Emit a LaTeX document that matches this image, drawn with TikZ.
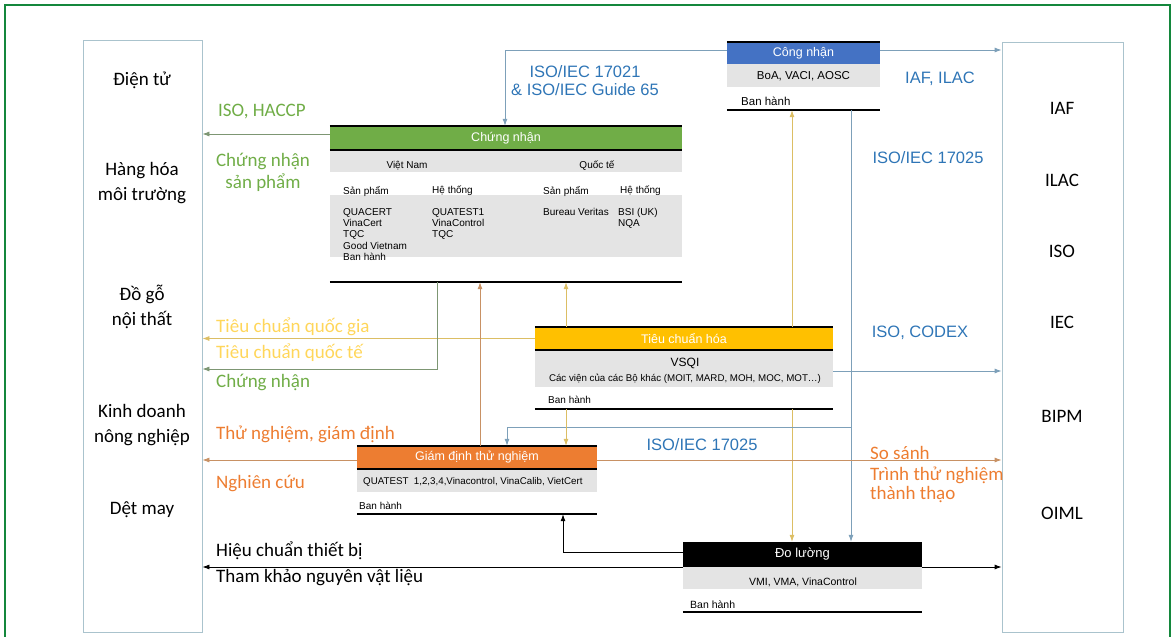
\documentclass[tikz,border=0pt]{standalone}
\usepackage{fontspec}
\setmainfont{Carlito}
\newfontfamily\arialf{Liberation Sans}
\usetikzlibrary{arrows.meta}
\definecolor{borderg}{RGB}{20,135,60}
\definecolor{cngreen}{RGB}{112,173,71}
\definecolor{conblue}{RGB}{68,114,196}
\definecolor{tcyellow}{RGB}{255,192,0}
\definecolor{gdorange}{RGB}{237,125,49}
\definecolor{band}{RGB}{228,228,228}
\definecolor{txtblue}{RGB}{46,117,182}
\definecolor{txtgreen}{RGB}{112,173,71}
\definecolor{txtyellow}{RGB}{255,214,90}
\definecolor{txtorange}{RGB}{237,125,49}
\definecolor{lnblue}{RGB}{125,160,185}
\definecolor{lngreen}{RGB}{125,150,115}
\definecolor{lnyellow}{RGB}{220,190,100}
\definecolor{lnorange}{RGB}{200,145,100}
\definecolor{sideline}{RGB}{170,195,205}
\tikzset{arrow/.style={->, >={Latex[length=7pt,width=5pt]}, line width=0.8pt}}

\begin{document}
\begin{tikzpicture}[x=1pt, y=-1pt,
    unit/.style 2 args={minimum width=#1, minimum height=#2, inner sep=0pt},
    hdr/.style={inner sep=0pt, text=white, font=\arialf\fontsize{12.5}{14}\selectfont},
    rule/.style={line width=2.5pt, black},
    small/.style={inner sep=0pt, font=\arialf\fontsize{10}{11.4}\selectfont},
    side/.style={inner sep=0pt, align=center, font=\fontsize{19}{25}\selectfont},
    note/.style={inner sep=0pt, anchor=west, font=\fontsize{19}{22}\selectfont},
    std/.style={inner sep=0pt, align=center, text=txtblue, font=\arialf\fontsize{16.5}{18}\selectfont},
    sidebox/.style={draw=sideline, line width=0.8pt, inner sep=0pt}]
    \useasboundingbox (0,0) rectangle (1176,637);
    \draw[borderg, line width=2.5pt] (5,640) -- (5,5) -- (1170,5) -- (1170,640);

    \node[sidebox, minimum width=119pt, minimum height=592pt] (sect) at (142.5,336) {};
    \node[sidebox, minimum width=121pt, minimum height=590pt] (ints) at (1062.5,337) {};
    \node[side] (s1) at (142,80) {Điện tử};
    \node[side] (s2) at (142,183) {Hàng hóa\\môi trường};
    \node[side] (s3) at (142,307) {Đồ gỗ\\nội thất};
    \node[side] (s4) at (142,425) {Kinh doanh\\nông nghiệp};
    \node[side] (s5) at (142,510) {Dệt may};
    \node[side] (i1) at (1062,108) {IAF};
    \node[side] (i2) at (1062,180) {ILAC};
    \node[side] (i3) at (1062,251) {ISO};
    \node[side] (i4) at (1062,322) {IEC};
    \node[side] (i5) at (1062,416) {BIPM};
    \node[side] (i6) at (1062,513) {OIML};

    \draw[arrow, <->, black] (sect.east |- 0,567) -- (ints.west |- 0,567);

    % Chung nhan
    \node[unit={352pt}{156pt}] (cn) at (506,204) {};
    \fill[band] (cn.west |- 0,150) rectangle (cn.east |- 0,172);
    \fill[band] (cn.west |- 0,195) rectangle (cn.east |- 0,257);
    \node[hdr, fill=cngreen, minimum width=352pt, minimum height=24pt] (cnh) at (506,138) {Chứng nhận};
    \draw[rule] (cnh.north west) -- (cnh.north east);
    \draw[rule] (cnh.south west) -- (cnh.south east);
    \draw[rule] (cn.south west) -- (cn.south east);
    \node[small] (vn) at (407,166) {Việt Nam};
    \node[small] (qt) at (597,166) {Quốc tế};
    \node[small, anchor=west] (sp1) at (343,191) {Sản phẩm};
    \node[small, anchor=west] (ht1) at (432,191) {Hệ thống};
    \node[small, anchor=west] (sp2) at (543,191) {Sản phẩm};
    \node[small, anchor=west] (ht2) at (620,191) {Hệ thống};
    \node[small, anchor=north west, align=left] (vnsp) at (343,208) {QUACERT\\VinaCert\\TQC\\Good Vietnam\\Ban hành};
    \node[small, anchor=north west, align=left] (vnht) at (432,208) {QUATEST1\\ VinaControl\\ TQC};
    \node[small, anchor=north west, align=left] (qtsp) at (543,208) {Bureau Veritas};
    \node[small, anchor=north west, align=left] (qtht) at (618,208) {BSI (UK)\\NQA};

    % Cong nhan
    \node[unit={153pt}{68pt}] (con) at (803.5,76) {};
    \fill[band] (con.west |- 0,64) rectangle (con.east |- 0,87);
    \node[hdr, fill=conblue, minimum width=153pt, minimum height=22pt] (conh) at (803.5,53) {Công nhận};
    \draw[rule] (conh.north west) -- (conh.north east);
    \draw[rule] (con.south west) -- (con.south east);
    \node[small, font=\arialf\fontsize{11.5}{13}\selectfont] (boa) at (803.5,76) {BoA, VACI, AOSC};
    \node[small, anchor=west, font=\arialf\fontsize{11.5}{13}\selectfont] (conbh) at (741,101) {Ban hành};

    % Tieu chuan hoa
    \node[unit={298pt}{82pt}] (tc) at (684,368) {};
    \fill[band] (tc.west |- 0,350) rectangle (tc.east |- 0,387);
    \node[hdr, fill=tcyellow, minimum width=298pt, minimum height=23pt] (tch) at (684,338.5) {Tiêu chuẩn hóa};
    \draw[rule] (tch.north west) -- (tch.north east);
    \draw[rule] (tch.south west) -- (tch.south east);
    \draw[rule] (tc.south west) -- (tc.south east);
    \node[small, font=\arialf\fontsize{12}{14}\selectfont] (vsqi) at (685,363) {VSQI};
    \node[small, font=\arialf\fontsize{9.75}{12}\selectfont] (vien) at (685,379) {Các viện của các Bộ khác (MOIT, MARD, MOH, MOC, MOT…)};
    \node[small, anchor=west] (tcbh) at (548,400) {Ban hành};

    % Giam dinh thu nghiem
    \node[unit={240pt}{68pt}] (gd) at (477,480) {};
    \fill[band] (gd.west |- 0,469) rectangle (gd.east |- 0,492);
    \node[hdr, fill=gdorange, minimum width=240pt, minimum height=23pt] (gdh) at (477,457.5) {Giám định thử nghiệm};
    \draw[rule] (gdh.north west) -- (gdh.north east);
    \draw[rule] (gdh.south west) -- (gdh.south east);
    \draw[rule] (gd.south west) -- (gd.south east);
    \node[small, anchor=west, font=\arialf\fontsize{9.75}{12}\selectfont] (qts) at (363,482) {QUATEST\ \ 1,2,3,4,Vinacontrol, VinaCalib, VietCert};
    \node[small, anchor=west] (gdbh) at (359,506) {Ban hành};

    % Do luong
    \node[unit={239pt}{70pt}] (dl) at (802.5,577) {};
    \fill[band] (dl.west |- 0,567) rectangle (dl.east |- 0,589);
    \node[hdr, fill=black, minimum width=239pt, minimum height=25pt, font=\arialf\fontsize{13}{15}\selectfont] (dlh) at (802.5,554.5) {Đo lường};
    \draw[rule] (dl.south west) -- (dl.south east);
    \node[small, font=\arialf\fontsize{10.5}{12}\selectfont] (vmi) at (803,582) {VMI, VMA, VinaControl};
    \node[small, anchor=west, font=\arialf\fontsize{10.5}{12}\selectfont] (dlbh) at (690,605) {Ban hành};

    \draw[arrow, lngreen] (cnh.west |- 0,134) -- (sect.east |- 0,134);
    \draw[arrow, lnblue] (conh.west |- 0,50) -| (cn.north -| 505,0);
    \draw[arrow, lnblue] (conh.east |- 0,50) -- (ints.west |- 0,50);
    \draw[arrow, lnyellow] (tc.north -| 792,0) -- (con.south -| 792,0);
    \draw[arrow, lnyellow] (tc.south -| 792,0) -- (dl.north -| 792,0);
    \draw[arrow, lnblue] (con.south -| 851,0) -- (dl.north -| 851,0);
    \coordinate (split) at (851,427);
    \draw[arrow, lnblue] (split) -| (gd.north -| 507,0);
    \draw[arrow, lnyellow] (tch.west) -- (sect.east |- tch.west);
    \draw[arrow, lngreen] (cn.south -| 437,0) |- (sect.east |- 0,369);
    \draw[arrow, lnorange] (gdh.west |- 0,460) -- (sect.east |- 0,460);
    \draw[arrow, lnorange] (gdh.east |- 0,460) -- (ints.west |- 0,460);
    \draw[arrow, lnblue] (tc.east |- 0,371) -- (ints.west |- 0,371);
    \draw[arrow, lnorange] (gd.north -| 480,0) -- (cn.south -| 480,0);
    \draw[arrow, lnyellow] (tc.north -| 566,0) -- (cn.south -| 566,0);
    \draw[arrow, lnyellow] (tc.south -| 566,0) -- (gd.north -| 566,0);
    \draw[arrow] (dlh.west |- 0,552) -| (gd.south -| 563,0);

    \node[note, text=txtgreen] (l1) at (218,112) {ISO, HACCP};
    \node[note, text=txtgreen, align=center, anchor=center] (l2) at (263,172) {Chứng nhận\\sản phẩm};
    \node[note, text=txtyellow] (l3) at (216,327) {Tiêu chuẩn quốc gia};
    \node[note, text=txtyellow] (l4) at (216,353) {Tiêu chuẩn quốc tế};
    \node[note, text=txtgreen] (l5) at (216,382) {Chứng nhận};
    \node[note, text=txtorange] (l6) at (216,434) {Thử nghiệm, giám định};
    \node[note, text=txtorange] (l7) at (216,483) {Nghiên cứu};
    \node[note] (l8) at (216,551) {Hiệu chuẩn thiết bị};
    \node[note] (l9) at (216,578) {Tham khảo nguyên vật liệu};
    \node[note, text=txtorange] (l10) at (870,453) {So sánh};
    \node[note, text=txtorange, align=left, font=\fontsize{19}{19}\selectfont] (l11) at (870,485) {Trình thử nghiệm\\thành thạo};
    \node[std] (b1) at (585,81) {ISO/IEC 17021\\\& ISO/IEC Guide 65};
    \node[std] (b2) at (940,79) {IAF, ILAC};
    \node[std] (b3) at (928,158) {ISO/IEC 17025};
    \node[std] (b4) at (920,333) {ISO, CODEX};
    \node[std] (b5) at (702,445) {ISO/IEC 17025};
\end{tikzpicture}
\end{document}
